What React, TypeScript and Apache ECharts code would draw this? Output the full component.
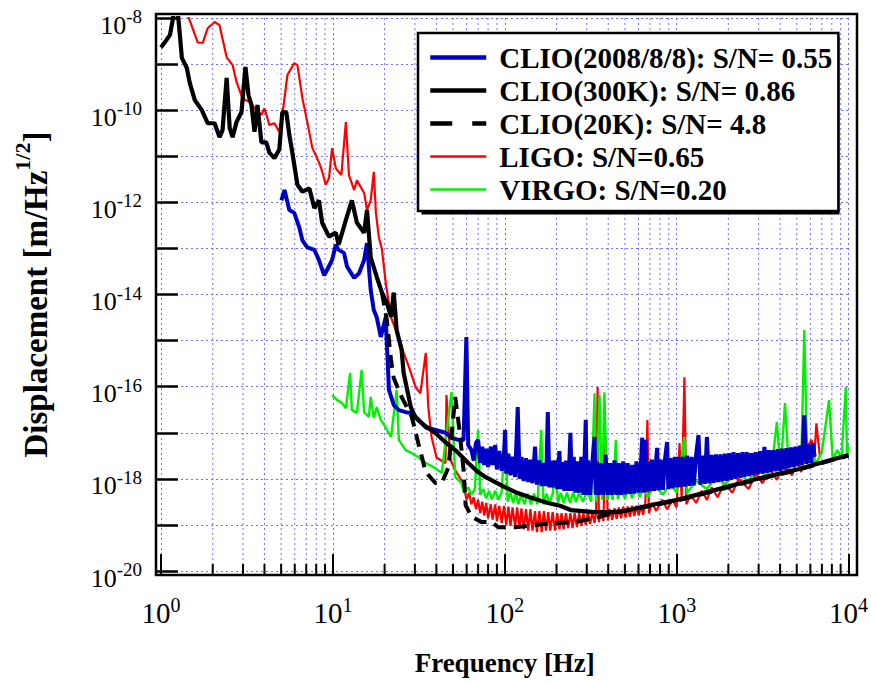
import React, { useEffect, useRef } from 'react';
import * as echarts from 'echarts';

const W = 871;
const H = 685;
const FONT = "'Liberation Serif', 'Times New Roman', serif";
const GRID_COLOR = '#7070ff';

// Series names
const NAME_2008 = 'CLIO(2008/8/8): S/N= 0.55';
const NAME_300K = 'CLIO(300K): S/N= 0.86';
const NAME_20K = 'CLIO(20K): S/N= 4.8';
const NAME_LIGO = 'LIGO: S/N=0.65';
const NAME_VIRGO = 'VIRGO: S/N=0.20';

// Axis ranges
const X_MIN = 1;
const X_MAX = 10000;
const Y_MIN = 1e-20;
const Y_MAX = 1e-8;
const Y_EXP_MIN = -20;
const Y_EXP_MAX = -8;

// Minor tick frequencies (2..9 in each decade)
const minorFreqs = [
  2, 3, 4, 5, 6, 7, 8, 9,
  20, 30, 40, 50, 60, 70, 80, 90,
  200, 300, 400, 500, 600, 700, 800, 900,
  2000, 3000, 4000, 5000, 6000, 7000, 8000, 9000,
];

// [frequency Hz, displacement m/Hz^1/2]
const clio300k = [
  [1.0, 2.3e-9], [1.055, 3.0e-9], [1.128, 4.3e-9], [1.19, 1.3e-8], [1.254, 1.3e-8], [1.323, 1.35e-9],
  [1.414, 8.2e-10], [1.47, 3.9e-10], [1.573, 1.65e-10], [1.727, 1.0e-10], [1.87, 5.2e-11], [2.05, 5.2e-11],
  [2.19, 2.6e-11], [2.28, 3.7e-11], [2.41, 5.0e-10], [2.51, 4.1e-11], [2.61, 2.6e-11], [2.75, 5.5e-11],
  [2.94, 9.1e-11], [3.1, 8.7e-10], [3.23, 2.1e-10], [3.36, 1.3e-10], [3.5, 3.4e-11], [3.64, 1.3e-10],
  [3.84, 2.0e-11], [4.1, 2.0e-11], [4.27, 1.2e-11], [4.57, 9.1e-12], [4.88, 1.4e-11], [5.08, 9.1e-11],
  [5.36, 9e-11], [5.58, 2.9e-11], [5.81, 1.2e-11], [6.22, 2.4e-12], [6.65, 1.7e-12], [7.3, 2.0e-12],
  [7.8, 7.5e-13], [8.3, 1.1e-12], [8.66, 3.6e-13], [9.5, 1.8e-13], [10.4, 2.2e-13], [10.8, 1.2e-13],
  [11.9, 4.1e-13], [12.9, 1.1e-12], [13.8, 3.6e-13], [15.2, 2.2e-13], [15.8, 6.8e-13], [16.6, 6.4e-14],
  [18.0, 2.4e-14], [19.3, 1.1e-14], [20.6, 6.6e-15], [21.8, 3.3e-15], [22.6, 1.1e-14], [23.5, 1.7e-15],
  [25.1, 6.3e-16], [25.8, 2.0e-16], [28.4, 3.6e-17], [30.3, 2.1e-17], [34.5, 1.4e-17], [39.6, 9.8e-18],
  [45, 6.3e-18], [51.5, 4.2e-18], [61.3, 2.2e-18], [70, 1.4e-18], [77, 1.1e-18], [88, 8.5e-19],
  [100, 6.6e-19], [119, 4.9e-19], [140, 4.0e-19], [178, 3.0e-19], [210, 2.6e-19], [242, 2.1e-19],
  [333, 1.9e-19], [420, 1.9e-19], [497, 2.0e-19], [676, 2.6e-19], [1010, 3.5e-19], [1730, 5.9e-19],
  [2950, 1.0e-18], [5030, 1.6e-18], [10000, 3.3e-18],
];

const clio20k = [
  [19.3, 1.1e-14], [20.6, 2.8e-15], [21.8, 3.8e-16], [22.6, 1.55e-16], [25.1, 6.0e-17], [28.8, 2.2e-17],
  [31.6, 5.4e-18], [34.7, 1.4e-18], [39.6, 8.1e-19], [43.0, 8.1e-19], [47.1, 1.8e-18], [51.5, 6.0e-17],
  [54.5, 1.15e-17], [57.6, 1.55e-18], [59.2, 2.7e-19], [64.1, 1.5e-19], [73.4, 1.15e-19], [83.9, 1.15e-19],
  [91.9, 8.9e-20], [115, 8.9e-20], [150, 1.0e-19], [195, 1.1e-19], [256, 1.15e-19], [333, 1.4e-19],
  [453, 1.9e-19], [676, 2.5e-19], [1010, 3.4e-19], [1730, 5.7e-19], [2950, 9.6e-19], [5030, 1.55e-18],
  [10000, 3.2e-18],
];

const clio2008 = [
  [5.02, 1.1e-12], [5.23, 1.85e-12], [5.58, 6.8e-13], [5.96, 5.9e-13], [6.37, 2.9e-13], [6.65, 1.5e-13],
  [7.1, 1.05e-13], [7.8, 9.3e-14], [8.3, 5.6e-14], [8.9, 2.6e-14], [9.25, 3.4e-14], [9.9, 5.6e-14],
  [10.4, 1.2e-13], [10.8, 9.3e-14], [11.6, 8.0e-14], [12.1, 4.0e-14], [13.3, 2.3e-14], [14.2, 2.9e-14],
  [15.2, 5.6e-14], [15.8, 1.3e-13], [16.6, 1.25e-14], [17.3, 4.6e-15], [18.0, 3.2e-15], [19.0, 1.2e-15],
  [20.3, 3.2e-15], [20.6, 8.9e-16], [21.2, 8.5e-17], [22.6, 4.0e-17], [24.2, 3.1e-17], [26.5, 2.8e-17],
  [28.8, 2.7e-17], [31.6, 1.9e-17], [34.7, 1.3e-17], [39.6, 1.15e-17], [45.2, 1.0e-17], [49.0, 7.8e-18],
  [53.7, 7.0e-18], [57.6, 7e-18], [59.8, 1.2e-15], [61.3, 5.4e-18], [64.0, 4.2e-18],
  [66, 2.5e-18], [68, 6e-18], [70, 7e-18], [72, 2.2e-18], [74, 5e-18], [76, 2e-18], [78, 4.5e-18],
  [80, 1.8e-18], [83, 5e-18], [85, 2e-18], [88, 5.4e-18], [90, 1.6e-18], [93, 4e-18], [96, 1.5e-18],
  [99, 3.5e-18], [100.5, 1.15e-17], [102, 1.3e-18], [105, 3.5e-18], [108, 1.2e-18], [111, 3e-18],
  [115, 1.1e-18], [119, 3.6e-17], [122, 1.0e-18], [125, 3e-18], [129, 9e-19], [133, 2.8e-18],
  [137, 8.5e-19], [141, 2.6e-18], [145, 8e-19], [150, 5e-18], [154, 7.5e-19], [159, 2.5e-18],
  [164, 7e-19], [169, 2.2e-18], [174, 7e-19], [178, 2.8e-17], [182, 6.5e-19], [186, 2.5e-18],
  [190, 6.5e-19], [196, 2.5e-18], [202, 6e-19], [208, 4e-18], [212, 6e-19], [218, 2.3e-18],
  [222, 5.5e-19], [227, 2.5e-18], [234, 5.5e-19], [241, 1e-17], [246, 5.5e-19], [252, 3e-18],
  [258, 5e-19], [263, 2.4e-18], [271, 5e-19], [279, 3e-18], [287, 4.5e-19], [296, 1.9e-17],
  [300, 4.5e-19], [305, 2.5e-18], [314, 4.5e-19], [323, 2.2e-18], [333, 8.1e-18], [338, 4.5e-19],
  [343, 2.4e-18], [353, 4.5e-19], [364, 2.2e-18], [375, 4.5e-19], [386, 3.3e-18], [398, 4.5e-19],
  [410, 2.2e-18], [422, 4.5e-19], [435, 2.5e-18], [448, 4.5e-19], [461, 2.2e-18], [475, 4.5e-19],
  [489, 2.4e-18], [504, 4.6e-19], [519, 2.2e-18], [535, 4.7e-19], [551, 2.0e-18], [567, 4.8e-19],
  [584, 2.4e-18], [602, 5e-19], [620, 2.2e-18], [631, 7.8e-18], [640, 5e-19], [652, 2.5e-18],
  [659, 7e-18], [668, 5.2e-19], [683, 2.4e-18], [697, 5.4e-19], [718, 2.6e-18], [740, 5.5e-19],
  [762, 2.8e-18], [770, 4.7e-18], [785, 5.6e-19], [808, 2.6e-18], [832, 5.8e-19], [857, 2.8e-18],
  [880, 6.3e-18], [895, 6e-19], [920, 2.8e-18], [945, 6.2e-19], [975, 3e-18], [1000, 6.5e-19],
  [1024, 3e-18], [1055, 6.6e-19], [1086, 3e-18], [1119, 6.8e-19], [1152, 3.2e-18], [1187, 7e-19],
  [1222, 3e-18], [1259, 7.2e-19], [1297, 3.2e-18], [1340, 8.9e-18], [1376, 7.5e-19], [1417, 3.2e-18],
  [1460, 7.8e-19], [1500, 8.1e-18], [1548, 8e-19], [1595, 3.3e-18], [1643, 8.2e-19], [1692, 3.4e-18],
  [1743, 8.5e-19], [1795, 3.4e-18], [1849, 8.8e-19], [1904, 3.5e-18], [1961, 9e-19], [2020, 3.6e-18],
  [2081, 9.5e-19], [2143, 3.8e-18], [2208, 1e-18], [2274, 3.6e-18], [2342, 1.05e-18], [2412, 3.8e-18],
  [2485, 1.1e-18], [2559, 3.8e-18], [2636, 1.15e-18], [2715, 3.6e-18], [2797, 1.2e-18], [2880, 3.8e-18],
  [2967, 1.25e-18], [3056, 4e-18], [3148, 1.3e-18], [3242, 4.9e-18], [3339, 1.35e-18], [3439, 4.2e-18],
  [3543, 1.4e-18], [3649, 4.2e-18], [3758, 1.45e-18], [3871, 4.4e-18], [3987, 1.5e-18], [4107, 4.5e-18],
  [4230, 1.6e-18], [4357, 4.6e-18], [4488, 1.7e-18], [4622, 4.8e-18], [4761, 1.8e-18], [4904, 5e-18],
  [5051, 1.9e-18], [5202, 5.2e-18], [5358, 2e-18], [5530, 2.4e-17], [5685, 2.1e-18], [5855, 5.5e-18],
  [6031, 2.2e-18], [6212, 6e-18], [6350, 3e-18],
];

const ligo = [
  [1.395, 1.5e-8], [1.64, 2.9e-9], [1.75, 2.9e-9], [1.87, 6.0e-9], [2.05, 8.2e-9], [2.19, 7.0e-9],
  [2.41, 1.4e-9], [2.61, 9.5e-10], [2.75, 4.1e-10], [2.98, 1.8e-10], [3.27, 1.5e-10], [3.5, 1.1e-10],
  [3.84, 7.9e-11], [4.0, 1.1e-10], [4.27, 4.8e-11], [4.57, 5.2e-11], [4.88, 3.4e-11], [5.08, 7.9e-11],
  [5.44, 5.8e-10], [5.96, 1.05e-9], [6.22, 9.5e-10], [6.65, 1.8e-10], [7.1, 5.5e-11], [7.6, 1.5e-11],
  [8.1, 9.1e-12], [8.55, 5.5e-12], [9.1, 2.4e-12], [9.5, 3.4e-12], [9.9, 1.5e-11], [10.4, 5.5e-12],
  [11.2, 3.9e-12], [11.9, 5.5e-11], [12.4, 3.9e-12], [13.3, 1.85e-12], [13.8, 3.0e-12], [15.2, 1.6e-12],
  [15.8, 6.8e-13], [16.6, 1.1e-12], [17.3, 4.6e-12], [17.8, 5.9e-13], [18.5, 1.8e-13], [19.3, 9.3e-14],
  [20.3, 1.8e-14], [21.8, 3.2e-15], [23.2, 1.7e-15], [24.8, 8.9e-16], [25.8, 5.4e-16], [27.7, 2.7e-16],
  [30.3, 9.8e-17], [32.3, 7.2e-17], [34.7, 5.4e-16], [35.9, 3.6e-17], [37.5, 8.1e-18], [40.1, 2.9e-18],
  [45.2, 2.2e-18], [45.8, 6.6e-17], [48.3, 2.6e-18], [51.5, 1.55e-18], [55.9, 9.3e-19], [58, 6e-19],
  [60, 3.5e-19], [62, 5e-19], [64, 2.8e-19], [66, 4e-19], [68, 2.2e-19], [70, 3.5e-19], [72, 1.8e-19],
  [74, 3.2e-19], [76, 1.6e-19], [78, 3e-19], [80, 1.4e-19], [83, 2.8e-19], [85, 1.3e-19], [88, 2.8e-19],
  [90, 1.2e-19], [93, 2.6e-19], [96, 1.1e-19], [99, 2.6e-19], [102, 1e-19], [105, 2.5e-19],
  [108, 9.5e-20], [111, 2.4e-19], [115, 9e-20], [118, 2.4e-19], [122, 8.5e-20], [125, 2.3e-19],
  [129, 8e-20], [133, 2.2e-19], [137, 7.5e-20], [141, 2.2e-19], [145, 7.5e-20], [150, 2e-19],
  [154, 7e-20], [159, 2e-19], [164, 7e-20], [169, 2e-19], [174, 7.5e-20], [179, 1.9e-19], [184, 7.5e-20],
  [190, 1.9e-19], [196, 7.5e-20], [202, 1.8e-19], [208, 8e-20], [214, 1.8e-19], [220, 8e-20],
  [227, 1.8e-19], [234, 8.5e-20], [241, 1.8e-19], [248, 8.5e-20], [255, 1.8e-19], [263, 9e-20],
  [271, 1.8e-19], [279, 9.5e-20], [287, 1.8e-19], [296, 1e-19], [305, 1.9e-19], [314, 1.05e-19],
  [323, 1.9e-19], [333, 1.1e-19], [340, 2e-19], [347, 9.8e-17], [353, 1.15e-19], [364, 2.1e-19],
  [375, 1.2e-19], [386, 8.1e-18], [398, 1.25e-19], [410, 2.2e-19], [422, 1.3e-19], [435, 2.3e-19],
  [448, 1.35e-19], [461, 2.4e-19], [475, 1.4e-19], [489, 2.5e-19], [504, 1.45e-19], [519, 2.5e-19],
  [535, 1.5e-19], [551, 2.6e-19], [567, 1.55e-19], [584, 2.6e-19], [602, 1.6e-19], [620, 2.7e-19],
  [638, 1.65e-19], [657, 2.8e-19], [676, 1.9e-17], [690, 1.8e-19], [720, 3e-19], [760, 2e-19],
  [825, 3.5e-19], [880, 2.2e-19], [945, 3.5e-19], [1000, 2.4e-19], [1040, 6.0e-18], [1070, 3.5e-19],
  [1110, 1.6e-16], [1140, 2.8e-19], [1200, 4.5e-19], [1300, 3e-19], [1400, 5.5e-19], [1500, 3.5e-19],
  [1600, 6.5e-19], [1730, 4e-19], [1900, 8e-19], [2110, 5e-19], [2300, 1e-18], [2620, 6e-19],
  [2900, 1.3e-18], [3160, 8e-19], [3500, 1.6e-18], [3830, 9.5e-19], [4200, 2e-18], [4700, 1.2e-18],
  [5000, 2.5e-18], [5300, 1.4e-18], [5600, 4.2e-18], [6100, 7e-18], [6300, 2e-18], [6500, 1.6e-17],
  [6820, 3e-18],
];

const virgo = [
  [9.9, 6.6e-17], [10.6, 5.1e-17], [11.3, 4.4e-17], [11.9, 3.4e-17], [12.6, 2.0e-16], [12.9, 3.1e-17],
  [13.8, 2.7e-17], [14.7, 2.3e-16], [15.2, 2.8e-17], [16.2, 2.2e-17], [16.6, 6.0e-17], [17.3, 2.1e-17],
  [18.0, 3.6e-17], [19.0, 1.9e-17], [20.3, 1.3e-17], [21.8, 8.1e-18], [23.5, 8.5e-17], [24.2, 7e-18],
  [26.5, 4.2e-18], [28.8, 3.6e-18], [31.6, 2.9e-18], [34.7, 2.2e-18], [38.5, 1.8e-18], [43, 1.35e-18],
  [49, 7.6e-17], [51.5, 1.1e-18], [55.9, 8.1e-19], [58, 5e-19], [61.3, 6.6e-19], [64, 4.5e-19],
  [67, 6e-19], [70, 1.15e-17], [72, 4.5e-19], [75, 6e-19], [78, 3.8e-19], [81, 5.5e-19], [84, 3.6e-19],
  [88, 5.5e-19], [92, 3.5e-19], [96, 5.2e-19], [100.5, 1.15e-17], [104, 3.2e-19], [108, 5e-19],
  [112, 3e-19], [116, 5e-19], [120, 2.8e-19], [125, 4.8e-19], [130, 2.8e-19], [136, 4.8e-19],
  [142, 2.8e-19], [148, 4.8e-19], [155, 2.8e-19], [163, 1.15e-17], [168, 2.8e-19], [175, 4.8e-19],
  [182, 2.9e-19], [190, 4.8e-19], [198, 1.8e-18], [204, 3e-19], [212, 5e-19], [220, 3e-19],
  [230, 5e-19], [240, 3e-19], [250, 5e-19], [260, 3.1e-19], [270, 5e-19], [285, 3.2e-19],
  [303, 5.5e-19], [318, 3.2e-19], [333, 7.2e-17], [340, 3.2e-19], [356, 6.6e-17], [368, 3.5e-19],
  [380, 7.6e-17], [394, 3.5e-19], [410, 6e-19], [425, 3.5e-19], [443, 7e-18], [455, 3.6e-19],
  [475, 6.2e-19], [500, 3.7e-19], [525, 6.5e-19], [550, 3.8e-19], [580, 6.8e-19], [610, 4e-19],
  [640, 7e-19], [676, 4e-19], [750, 7.5e-19], [830, 4.5e-19], [920, 8e-19], [1000, 5e-19],
  [1110, 8.1e-18], [1150, 5e-19], [1300, 9e-19], [1500, 6e-19], [1700, 1.1e-18], [1900, 7.5e-19],
  [2250, 1.4e-18], [2600, 9e-19], [3000, 1.7e-18], [3360, 1.1e-18], [3600, 2.2e-18], [3830, 1.7e-17],
  [4030, 1.5e-18], [4270, 4.4e-17], [4500, 1.8e-18], [5030, 2.8e-18], [5300, 1.7e-18], [5530, 1.7e-15],
  [5750, 2.2e-18], [6100, 3.3e-18], [6500, 2.2e-18], [7000, 3.8e-18], [7700, 5.1e-17], [8100, 2.6e-18],
  [8600, 4.2e-18], [9100, 2.9e-18], [9650, 9.8e-17], [9800, 3e-18], [10000, 5.3e-18],
];

const BLUE = '#0000c4';
const RED = '#ff0000';
const GREEN = '#00f000';
const BLACK = '#000000';

const tickRich = (b: number, s: number) => ({
  b: { fontFamily: FONT, fontSize: b, lineHeight: 36, color: '#000' },
  s: { fontFamily: FONT, fontSize: s, lineHeight: s, verticalAlign: 'top', color: '#000' },
});

function buildOption() {
  const gridLine = { color: GRID_COLOR, width: 1, type: [2, 3] as any };
  return {
    animation: false,
    backgroundColor: '#fff',
    grid: { left: 161, top: 18, width: 691, height: 553, containLabel: false },
    xAxis: {
      type: 'log',
      logBase: 10,
      min: X_MIN,
      max: X_MAX,
      offset: 4,
      axisLine: { show: false },
      axisTick: { show: true, inside: true, length: 21, lineStyle: { color: '#000', width: 2 } },
      axisLabel: {
        margin: 20,
        showMinLabel: true,
        showMaxLabel: true,
        formatter: (v: number) => `{b|10}{s|${Math.round(Math.log10(v))}}`,
        rich: tickRich(29, 20),
      },
      splitLine: { show: true, lineStyle: gridLine },
      name: 'Frequency [Hz]',
      nameLocation: 'middle',
      nameGap: 74,
      nameTextStyle: { fontFamily: FONT, fontWeight: 'bold', fontSize: 27, color: '#000' },
    },
    yAxis: [
      { type: 'log', logBase: 10, min: Y_MIN, max: Y_MAX, show: false },
      {
        type: 'value',
        min: Y_EXP_MIN,
        max: Y_EXP_MAX,
        interval: 1,
        position: 'left',
        offset: 5,
        axisLine: { show: false },
        axisTick: { show: true, inside: true, length: 22, lineStyle: { color: '#000', width: 2.5 } },
        axisLabel: {
          margin: 14,
          padding: [14, 0, 0, 0],
          showMinLabel: true,
          showMaxLabel: true,
          formatter: (v: number) => (Math.round(v) % 2 === 0 ? `{b|10}{s|${Math.round(v)}}` : ''),
          rich: tickRich(26, 19),
        },
        splitLine: { show: true, lineStyle: gridLine },
        name: '{b|Displacement [m/Hz}{s|1/2}{b|]}',
        nameLocation: 'middle',
        nameGap: 95,
        nameTextStyle: {
          color: '#000',
          rich: {
            b: { fontFamily: FONT, fontWeight: 'bold', fontSize: 33, lineHeight: 50, color: '#000' },
            s: { fontFamily: FONT, fontWeight: 'bold', fontSize: 22, lineHeight: 22, verticalAlign: 'top', color: '#000' },
          },
        },
      },
    ],
    legend: {
      orient: 'vertical',
      left: 418,
      top: 33,
      padding: [8, 6, 5, 10],
      itemWidth: 56,
      itemHeight: 14,
      itemGap: 0,
      selectedMode: false,
      backgroundColor: '#fff',
      borderColor: '#000',
      borderWidth: 2.5,
      z: 6,
      itemStyle: { opacity: 0 },
      textStyle: { fontFamily: FONT, fontWeight: 'bold', fontSize: 29, lineHeight: 33, color: '#000', padding: [0, 0, 0, 8] },
      data: [
        { name: NAME_2008, lineStyle: { width: 4.5 } },
        { name: NAME_300K, lineStyle: { width: 4.5 } },
        { name: NAME_20K, lineStyle: { width: 4.5, type: [22, 20] } },
        { name: NAME_LIGO, lineStyle: { width: 2.5 } },
        { name: NAME_VIRGO, lineStyle: { width: 2.5 } },
      ],
    },
    graphic: [
      {
        type: 'rect',
        z: 5,
        silent: true,
        shape: { x: 421.5, y: 36.5, width: 418, height: 178 },
        style: { fill: '#000' },
      },
      {
        type: 'rect',
        z: 10,
        silent: true,
        shape: { x: 156, y: 14, width: 701, height: 561 },
        style: { fill: 'none', stroke: '#000', lineWidth: 2.5 },
      },
    ],
    series: [
      {
        type: 'custom',
        name: 'minor',
        silent: true,
        z: 1,
        clip: false,
        data: minorFreqs.map((f) => [f, Y_MIN]),
        renderItem: (_p: any, api: any) => {
          const f = api.value(0);
          const bot = api.coord([f, Y_MIN]);
          const top = api.coord([f, Y_MAX]);
          return {
            type: 'group',
            children: [
              {
                type: 'line',
                shape: { x1: bot[0], y1: top[1], x2: bot[0], y2: bot[1] },
                style: { stroke: GRID_COLOR, lineWidth: 1, lineDash: [2, 3] },
              },
              {
                type: 'line',
                shape: { x1: bot[0], y1: bot[1] + 4, x2: bot[0], y2: bot[1] + 4 - 11 },
                style: { stroke: '#000', lineWidth: 2 },
              },
            ],
          };
        },
      },
      {
        type: 'line', name: NAME_LIGO, data: ligo, showSymbol: false, symbol: 'none', z: 2,
        lineStyle: { color: RED, width: 2.2 }, itemStyle: { color: RED },
      },
      {
        type: 'line', name: NAME_VIRGO, data: virgo, showSymbol: false, symbol: 'none', z: 2,
        lineStyle: { color: GREEN, width: 2.4 }, itemStyle: { color: GREEN },
      },
      {
        type: 'line', name: NAME_2008, data: clio2008, showSymbol: false, symbol: 'none', z: 2,
        lineStyle: { color: BLUE, width: 4 }, itemStyle: { color: BLUE },
      },
      {
        type: 'line', name: NAME_20K, data: clio20k, showSymbol: false, symbol: 'none', z: 2,
        lineStyle: { color: BLACK, width: 4, type: [13, 8] }, itemStyle: { color: BLACK },
      },
      {
        type: 'line', name: NAME_300K, data: clio300k, showSymbol: false, symbol: 'none', z: 2,
        lineStyle: { color: BLACK, width: 4.2 }, itemStyle: { color: BLACK },
      },
    ],
  };
}

export default function App() {
  const ref = useRef<HTMLDivElement>(null);
  useEffect(() => {
    if (!ref.current) return;
    const chart = echarts.init(ref.current, null, { renderer: 'svg' });
    chart.setOption(buildOption() as any);
    return () => chart.dispose();
  }, []);
  return (
    <div
      ref={ref}
      style={{ position: 'fixed', left: 0, top: 0, width: W, height: H, background: '#fff' }}
    />
  );
}
